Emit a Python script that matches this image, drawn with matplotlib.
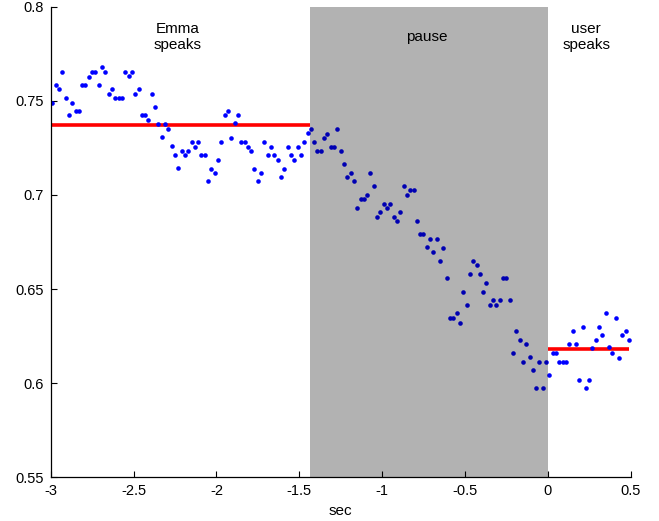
import numpy as np
import matplotlib
matplotlib.use("Agg")
import matplotlib.pyplot as plt

plt.rcParams['font.family'] = ['Liberation Sans', 'DejaVu Sans']

# sampling grid (seconds relative to user onset)
t_start = -2.99
t_step = 0.02

# pitch-like measure
values = [
    0.7490, 0.7584, 0.7561, 0.7655, 0.7513, 0.7423, 0.7490, 0.7444, 0.7444, 0.7584,
    0.7584, 0.7628, 0.7655, 0.7655, 0.7584, 0.7678, 0.7655, 0.7538, 0.7561, 0.7515,
    0.7515, 0.7515, 0.7655, 0.7632, 0.7655, 0.7538, 0.7561, 0.7423, 0.7423, 0.7396,
    0.7538, 0.7467, 0.7377, 0.7306, 0.7377, 0.7349, 0.7260, 0.7212, 0.7141, 0.7233,
    0.7210, 0.7233, 0.7279, 0.7256, 0.7279, 0.7210, 0.7210, 0.7072, 0.7139, 0.7118,
    0.7187, 0.7279, 0.7423, 0.7444, 0.7304, 0.7380, 0.7423, 0.7279, 0.7279, 0.7256,
    0.7233, 0.7139, 0.7072, 0.7118, 0.7279, 0.7210, 0.7256, 0.7210, 0.7187, 0.7094,
    0.7139, 0.7256, 0.7210, 0.7187, 0.7256, 0.7210, 0.7279, 0.7327, 0.7349, 0.7279,
    0.7233, 0.7233, 0.7304, 0.7325, 0.7256, 0.7256, 0.7350, 0.7233, 0.7166, 0.7095,
    0.7118, 0.7072, 0.6930, 0.6977, 0.6977, 0.7001, 0.7118, 0.7047, 0.6884, 0.6909,
    0.6953, 0.6930, 0.6953, 0.6884, 0.6861, 0.6909, 0.7047, 0.7001, 0.7024, 0.7024,
    0.6861, 0.6791, 0.6791, 0.6722, 0.6767, 0.6695, 0.6767, 0.6649, 0.6719, 0.6557,
    0.6344, 0.6344, 0.6371, 0.6321, 0.6486, 0.6417, 0.6580, 0.6649, 0.6626, 0.6580,
    0.6486, 0.6534, 0.6417, 0.6440, 0.6417, 0.6440, 0.6557, 0.6557, 0.6440, 0.6162,
    0.6277, 0.6229, 0.6114, 0.6206, 0.6137, 0.6068, 0.5974, 0.6114, 0.5974, 0.6114,
    0.6043, 0.6162, 0.6162, 0.6114, 0.6114, 0.6114, 0.6206, 0.6275, 0.6206, 0.6018,
    0.6300, 0.5974, 0.6018, 0.6185, 0.6229, 0.6300, 0.6254, 0.6371, 0.6190, 0.6162,
    0.6346, 0.6135, 0.6254, 0.6275, 0.6229,
]

# segment boundaries and mean levels
pause_start, pause_end = -1.435, 0.0
emma_mean = 0.7371
user_mean = 0.6180
user_end = 0.49

region_labels = ["Emma\nspeaks", "pause", "user\nspeaks"]
label_x = [-2.235, -0.73, 0.232]
label_y = 0.7840

xticks = [-3, -2.5, -2, -1.5, -1, -0.5, 0, 0.5]
xticklabels = ["-3", "-2.5", "-2", "-1.5", "-1", "-0.5", "0", "0.5"]
yticks = [0.55, 0.6, 0.65, 0.7, 0.75, 0.8]
yticklabels = ["0.55", "0.6", "0.65", "0.7", "0.75", "0.8"]

times = t_start + t_step * np.arange(len(values))

fig = plt.figure(figsize=(6.59, 5.21), dpi=100)
ax = fig.add_axes([50.7 / 659, 1 - 477.3 / 521, (630.6 - 50.7) / 659, (477.3 - 6.7) / 521])

ax.plot(times, values, linestyle='none', marker='o', markersize=3.3,
        markeredgewidth=0, color=(0, 0, 1), zorder=2)
ax.plot([-3, pause_start], [emma_mean, emma_mean], color=(1, 0, 0), lw=2.6,
        solid_capstyle='butt', zorder=1)
ax.plot([pause_end, user_end], [user_mean, user_mean], color=(1, 0, 0), lw=2.6,
        solid_capstyle='butt', zorder=1)
ax.axvspan(pause_start, pause_end, color='black', alpha=0.3, lw=0, zorder=3)

for txt, x in zip(region_labels, label_x):
    ax.text(x, label_y, txt, ha='center', va='center', fontsize=11,
            linespacing=1.2, zorder=4)

ax.set_xlim(-3, 0.5)
ax.set_ylim(0.55, 0.8)
ax.set_xticks(xticks)
ax.set_xticklabels(xticklabels)
ax.set_yticks(yticks)
ax.set_yticklabels(yticklabels)
ax.tick_params(direction='in', length=4, width=0.8, labelsize=10.5, pad=5)
for s in ['top', 'right']:
    ax.spines[s].set_visible(False)
for s in ['left', 'bottom']:
    ax.spines[s].set_linewidth(0.9)
ax.set_xlabel("sec", fontsize=11, labelpad=4)

fig.savefig("out.png", dpi=100)
